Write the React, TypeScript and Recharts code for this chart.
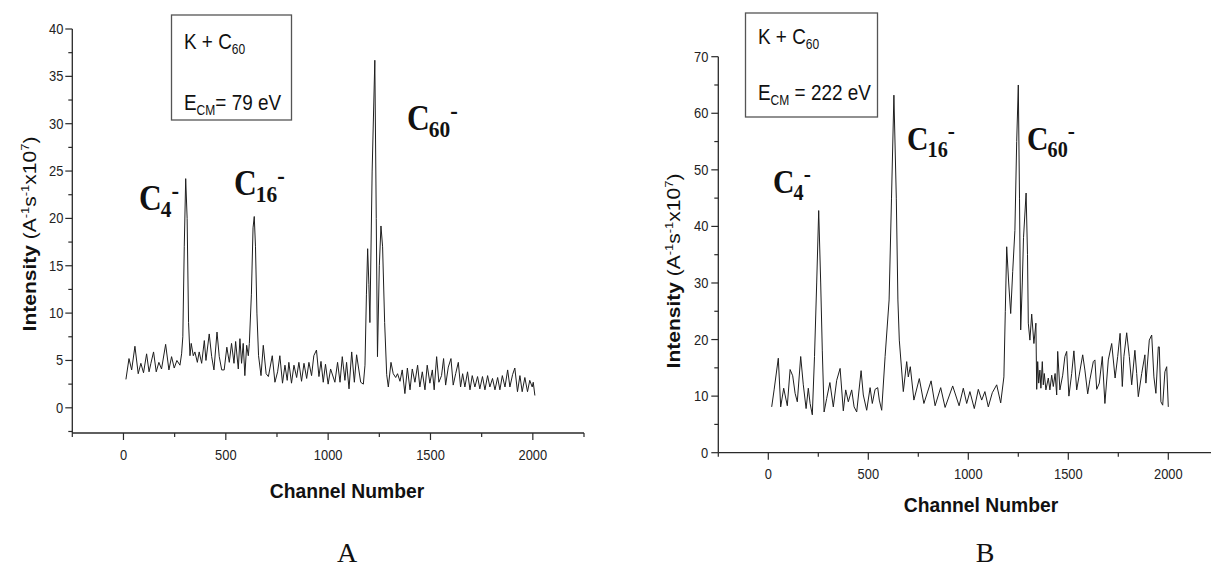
import React from 'react';
import { LineChart, Line, XAxis, YAxis } from 'recharts';

// ---------- data: panel A (E_CM = 79 eV) ----------
const channelsA = [
  12, 27, 40, 56, 72, 85, 98, 113, 125, 134,
  147, 160, 173, 186, 206, 222, 235, 248, 261, 276,
  284, 290, 297, 304, 311, 318, 325, 331, 341, 349,
  361, 370, 382, 395, 403, 419, 431, 442, 457, 468,
  480, 492, 505, 517, 528, 540, 548, 561, 569, 577,
  585, 593, 602, 610, 615, 625, 633, 639, 645, 652,
  660, 672, 683, 697, 708, 727, 740, 753, 764, 777,
  789, 800, 808, 821, 833, 846, 857, 870, 882, 895,
  906, 919, 930, 943, 955, 965, 976, 987, 1000, 1012,
  1033, 1046, 1058, 1069, 1082, 1090, 1102, 1115, 1128, 1139,
  1159, 1172, 1180, 1187, 1193, 1199, 1204, 1215, 1228, 1235,
  1241, 1250, 1258, 1266, 1276, 1286, 1294, 1307, 1318, 1330,
  1339, 1351, 1362, 1375, 1387, 1400, 1411, 1424, 1437, 1448,
  1460, 1473, 1484, 1497, 1509, 1518, 1530, 1541, 1554, 1564,
  1574, 1587, 1600, 1611, 1623, 1636, 1647, 1657, 1668, 1681,
  1693, 1704, 1717, 1730, 1741, 1754, 1766, 1779, 1790, 1803,
  1815, 1828, 1839, 1851, 1864, 1877, 1888, 1901, 1912, 1925,
  1937, 1948, 1961, 1974, 1985, 1997, 2002, 2010,
];
const intensityA = [
  3.0, 5.2, 4.0, 6.5, 3.6, 4.7, 3.7, 5.7, 3.8, 4.7,
  5.9, 3.8, 4.8, 4.1, 6.7, 4.0, 5.4, 4.2, 5.0, 4.5,
  5.7, 7.5, 17, 24.2, 20, 9, 5.5, 6.8, 5.5, 5.9,
  4.8, 5.9, 4.7, 7.1, 5.0, 7.8, 5.4, 4.0, 8.0, 5.4,
  4.0, 4.0, 6.4, 4.8, 6.8, 4.7, 7.0, 4.1, 7.3, 4.7,
  6.8, 3.4, 6.6, 5.5, 6.8, 12, 19, 20.2, 17, 10,
  5.5, 3.4, 6.6, 3.6, 3.3, 5.5, 2.7, 3.8, 5.5, 2.6,
  4.5, 2.9, 4.8, 2.6, 4.5, 3.2, 4.8, 2.8, 4.7, 3.1,
  4.8, 3.4, 5.5, 6.1, 3.3, 4.9, 2.7, 4.6, 2.5, 4.1,
  2.7, 4.8, 2.7, 5.4, 2.9, 4.8, 2.0, 5.9, 2.7, 5.6,
  2.7, 2.5, 4.5, 12, 16.8, 13, 9, 25, 36.7, 20,
  5.4, 15, 19.2, 17, 9, 3.5, 2.2, 4.8, 3.6, 3.2,
  3.6, 2.8, 4.0, 1.5, 4.2, 1.9, 4.1, 2.7, 4.5, 2.2,
  3.8, 1.9, 4.5, 2.6, 4.0, 1.9, 5.4, 2.7, 3.4, 5.2,
  2.4, 4.3, 5.2, 2.4, 3.6, 4.8, 2.2, 3.6, 2.2, 3.8,
  1.9, 3.4, 2.2, 3.3, 2.0, 3.3, 1.9, 3.4, 2.2, 3.1,
  1.9, 3.2, 1.9, 3.4, 2.2, 4.0, 2.2, 3.5, 4.2, 1.7,
  3.4, 1.7, 3.2, 1.7, 2.9, 2.2, 2.7, 1.3,
];

// ---------- data: panel B (E_CM = 222 eV) ----------
const channelsB = [
  17, 29, 50, 62, 77, 95, 109, 122, 134, 145,
  162, 175, 189, 200, 209, 220, 231, 242, 252, 262,
  270, 279, 292, 308, 325, 342, 359, 375, 387, 400,
  417, 429, 442, 464, 475, 492, 509, 520, 534, 547,
  555, 567, 584, 604, 616, 628, 640, 648, 655, 675,
  692, 700, 710, 728, 755, 778, 814, 834, 862, 884,
  922, 954, 975, 992, 1008, 1030, 1050, 1067, 1083, 1100,
  1120, 1142, 1162, 1178, 1185, 1192, 1202, 1212, 1222, 1233,
  1242, 1250, 1256, 1262, 1270, 1276, 1289, 1296, 1300, 1308,
  1317, 1328, 1338, 1342, 1347, 1352, 1358, 1363, 1370, 1375,
  1380, 1388, 1400, 1408, 1417, 1425, 1434, 1442, 1447, 1458,
  1472, 1483, 1492, 1503, 1517, 1528, 1542, 1553, 1572, 1583,
  1597, 1608, 1625, 1633, 1642, 1655, 1670, 1683, 1700, 1717,
  1734, 1747, 1759, 1770, 1778, 1792, 1805, 1817, 1833, 1842,
  1850, 1867, 1883, 1888, 1905, 1917, 1928, 1938, 1950, 1955,
  1963, 1972, 1983, 1992, 2000,
];
const intensityB = [
  8.1, 11.1, 16.7, 8.1, 11.4, 8.3, 14.7, 13.6, 10.5, 9.0,
  17.0, 12.0, 7.8, 11.4, 8.7, 6.7, 17, 30, 42.8, 30,
  18, 7.2, 9.6, 12.4, 8.1, 12.8, 14.9, 7.4, 11.1, 9.0,
  11.1, 8.1, 7.2, 14.5, 10.2, 7.5, 11.5, 8.7, 11.2, 11.5,
  9.3, 7.5, 17, 27, 45, 63.2, 45, 27, 19.9, 10.8,
  16.1, 13.4, 15.2, 9.3, 13.1, 8.7, 12.7, 8.3, 11.5, 8.0,
  11.8, 8.3, 11.4, 8.7, 10.8, 7.8, 11.2, 9.3, 10.8, 8.1,
  10.6, 12.0, 8.8, 13.4, 25, 36.4, 30, 24.6, 32, 39.3,
  55, 65, 45, 21.7, 30, 38, 45.9, 35, 22.9, 19.9,
  24.5, 19.3, 22.9, 11.2, 16.1, 12.3, 14.6, 11.4, 16.1, 12.0,
  14.0, 11.1, 13.2, 11.1, 13.7, 11.7, 14.0, 10.2, 17.9, 11.1,
  13.7, 17.0, 17.9, 10.0, 14.0, 18.0, 11.1, 13.4, 17.3, 14.6,
  10.4, 12.9, 16.1, 16.4, 11.2, 12.3, 17.0, 8.7, 16.4, 19.3,
  13.2, 17.0, 21.1, 11.7, 17.0, 21.2, 17.0, 12.0, 18.1, 14.0,
  9.9, 14.0, 17.3, 12.3, 19.9, 20.8, 13.4, 10.5, 18.7, 18.7,
  9.0, 8.4, 14.3, 15.2, 8.1,
];

// ---------- ticks ----------
const xTicks = [-250, 0, 250, 500, 750, 1000, 1250, 1500, 1750, 2000, 2250];
const yTicksA = [-2.5, 0, 2.5, 5, 7.5, 10, 12.5, 15, 17.5, 20, 22.5, 25, 27.5, 30, 32.5, 35, 37.5, 40];
const yTicksB = [0, 5, 10, 15, 20, 25, 30, 35, 40, 45, 50, 55, 60, 65, 70];

// ---------- text ----------
const xTitle = 'Channel Number';
const yTitleBold = 'Intensity';
const panelNames = ['A', 'B'];
const energiesA = '= 79 eV';
const energiesB = ' = 222 eV';

const dataA = channelsA.map((c, i) => ({ ch: c, v: intensityA[i] }));
const dataB = channelsB.map((c, i) => ({ ch: c, v: intensityB[i] }));

const SANS = '"Liberation Sans", Arial, Helvetica, sans-serif';
const SERIF = '"Liberation Serif", "Times New Roman", serif';
const AX = '#2a2a2a';
const LINE = '#1e1e1e';
const SQ = 0.86; // horizontal squeeze of the original artwork

const makeXTick = (majorStep: number, labelDy: number) => (props: any) => {
  const { x, y, payload } = props;
  const v = payload.value;
  const major = Math.abs(v % majorStep) < 1e-6;
  return (
    <g>
      <line x1={x} y1={y} x2={x} y2={y + (major ? 7 : 4)} stroke={AX} strokeWidth={1.2} />
      {major && (
        <text
          transform={`translate(${x},${y + labelDy}) scale(${SQ},1)`}
          textAnchor="middle"
          fontSize={15}
          fontFamily={SANS}
          fill="#222"
        >
          {v}
        </text>
      )}
    </g>
  );
};

const makeYTick = (majorStep: number, labelDx: number) => (props: any) => {
  const { x, y, payload } = props;
  const v = payload.value;
  const major = Math.abs(v % majorStep) < 1e-6;
  return (
    <g>
      <line x1={x - (major ? 7 : 4)} y1={y} x2={x} y2={y} stroke={AX} strokeWidth={1.2} />
      {major && (
        <text
          transform={`translate(${x - labelDx},${y + 5}) scale(${SQ},1)`}
          textAnchor="end"
          fontSize={15}
          fontFamily={SANS}
          fill="#222"
        >
          {v}
        </text>
      )}
    </g>
  );
};

const XTickA = makeXTick(500, 27);
const XTickB = makeXTick(500, 26);
const YTickA = makeYTick(5, 9);
const YTickB = makeYTick(10, 10);

function Ion({ x, y, sub, size }: { x: number; y: number; sub: string; size: number }) {
  return (
    <text
      transform={`translate(${x},${y}) scale(0.9,1)`}
      fontFamily={SERIF}
      fontWeight="bold"
      fontSize={size}
      fill="#111"
    >
      C
      <tspan fontSize={size * 0.68} dx={-1} dy={size * 0.2}>
        {sub}
      </tspan>
      <tspan fontSize={size * 0.72} dx={0} dy={-size * 0.52}>
        -
      </tspan>
    </text>
  );
}

function YTitle({ x, y }: { x: number; y: number }) {
  return (
    <text
      transform={`translate(${x},${y}) rotate(-90) scale(1,${SQ})`}
      textAnchor="middle"
      fontSize={21}
      fontFamily={SANS}
      fill="#111"
    >
      <tspan fontWeight="bold">{yTitleBold}</tspan>
      <tspan> (A</tspan>
      <tspan fontSize={13} dy={-8}>-1</tspan>
      <tspan dy={8}>s</tspan>
      <tspan fontSize={13} dy={-8}>-1</tspan>
      <tspan dy={8}>x10</tspan>
      <tspan fontSize={13} dy={-8}>7</tspan>
      <tspan dy={8}>)</tspan>
    </text>
  );
}

function Legend({ x, y1, y2, energy }: { x: number; y1: number; y2: number; energy: string }) {
  return (
    <g>
      <text transform={`translate(${x},${y1}) scale(${SQ},1)`} fontSize={22} fontFamily={SANS} fill="#111">
        K + C<tspan fontSize={14} dy={5}>60</tspan>
      </text>
      <text transform={`translate(${x},${y2}) scale(${SQ},1)`} fontSize={22} fontFamily={SANS} fill="#111">
        E<tspan fontSize={14} dy={5}>CM</tspan>
        <tspan dy={-5}>{energy}</tspan>
      </text>
    </g>
  );
}

export default function App() {
  return (
    <div
      style={{
        position: 'absolute',
        left: 0,
        top: 0,
        width: 1211,
        height: 567,
        overflow: 'hidden',
        background: '#fff',
      }}
    >
      {/* Panel A */}
      <div style={{ position: 'absolute', left: 0, top: 0 }}>
        <LineChart width={600} height={470} data={dataA} margin={{ top: 29, right: 16, bottom: 0, left: 0 }}>
          <XAxis
            type="number"
            dataKey="ch"
            domain={[-250, 2250]}
            ticks={xTicks}
            interval={0}
            allowDataOverflow
            height={37}
            tickSize={0}
            tickMargin={0}
            tickLine={false}
            axisLine={{ stroke: AX, strokeWidth: 1.3 }}
            tick={XTickA}
          />
          <YAxis
            type="number"
            domain={[-2.66, 40]}
            ticks={yTicksA}
            interval={0}
            allowDataOverflow
            width={72.3}
            tickSize={0}
            tickMargin={0}
            tickLine={false}
            axisLine={{ stroke: AX, strokeWidth: 1.3 }}
            tick={YTickA}
          />
          <Line
            type="linear"
            dataKey="v"
            stroke={LINE}
            strokeWidth={1}
            dot={false}
            isAnimationActive={false}
          />
        </LineChart>
      </div>

      {/* Panel B */}
      <div style={{ position: 'absolute', left: 640, top: 0 }}>
        <LineChart width={600} height={490} data={dataB} margin={{ top: 56.7, right: 21.7, bottom: 0, left: 0 }}>
          <XAxis
            type="number"
            dataKey="ch"
            domain={[-250, 2250]}
            ticks={xTicks}
            interval={0}
            allowDataOverflow
            height={37.3}
            tickSize={0}
            tickMargin={0}
            tickLine={false}
            axisLine={{ stroke: AX, strokeWidth: 1.3 }}
            tick={XTickB}
          />
          <YAxis
            type="number"
            domain={[0, 70]}
            ticks={yTicksB}
            interval={0}
            allowDataOverflow
            width={78.3}
            tickSize={0}
            tickMargin={0}
            tickLine={false}
            axisLine={{ stroke: AX, strokeWidth: 1.3 }}
            tick={YTickB}
          />
          <Line
            type="linear"
            dataKey="v"
            stroke={LINE}
            strokeWidth={1}
            dot={false}
            isAnimationActive={false}
          />
        </LineChart>
      </div>

      {/* Annotations */}
      <svg
        width={1211}
        height={567}
        style={{ position: 'absolute', left: 0, top: 0, pointerEvents: 'none' }}
      >
        <rect x={171.5} y={15} width={120} height={105} fill="none" stroke="#555" strokeWidth={1.3} />
        <Legend x={184} y1={49} y2={110} energy={energiesA} />

        <rect x={745.5} y={13} width={132} height={104} fill="none" stroke="#555" strokeWidth={1.3} />
        <Legend x={758} y1={44} y2={100} energy={energiesB} />

        <Ion x={139} y={210} sub="4" size={35} />
        <Ion x={234} y={195} sub="16" size={35} />
        <Ion x={407} y={130} sub="60" size={35} />

        <Ion x={773} y={193} sub="4" size={33} />
        <Ion x={907} y={150} sub="16" size={33} />
        <Ion x={1027} y={150} sub="60" size={33} />

        <YTitle x={36} y={234} />
        <YTitle x={680} y={271} />
        <text
          transform={`translate(347,498) scale(0.92,1)`}
          textAnchor="middle"
          fontSize={21}
          fontWeight="bold"
          fontFamily={SANS}
          fill="#111"
        >
          {xTitle}
        </text>
        <text
          transform={`translate(981,512) scale(0.92,1)`}
          textAnchor="middle"
          fontSize={21}
          fontWeight="bold"
          fontFamily={SANS}
          fill="#111"
        >
          {xTitle}
        </text>

        <text x={347} y={562} textAnchor="middle" fontSize={28} fontFamily={SERIF} fill="#111">
          {panelNames[0]}
        </text>
        <text x={985} y={562} textAnchor="middle" fontSize={28} fontFamily={SERIF} fill="#111">
          {panelNames[1]}
        </text>
      </svg>
    </div>
  );
}
